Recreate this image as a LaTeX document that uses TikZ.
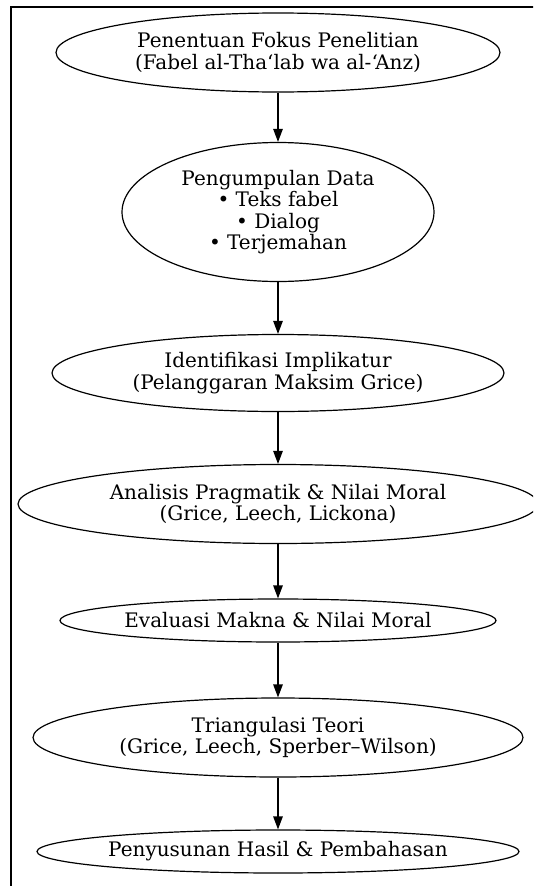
\documentclass[tikz,border=0pt]{standalone}
\usepackage{fontspec}
\setmainfont{DejaVu Serif}
\usetikzlibrary{shapes.geometric,arrows.meta}
\tikzset{
  stage/.style={draw, ellipse, line width=1.2pt, inner sep=0pt, align=center,
    font=\fontsize{20}{21.5}\selectfont},
  flow/.style={-{Triangle[length=13pt,width=9.5pt]}, line width=1.2pt}
}
\begin{document}
\begin{tikzpicture}[x=1pt,y=-1pt]
\useasboundingbox (0,0) rectangle (533,886);
\clip (0,0) rectangle (533,886);
\fill[white] (0,0) rectangle (533,886);
\draw[line width=1.8pt] (11,890) -- (11,7) -- (540,7);
\node[stage, minimum width=444pt, minimum height=79pt] (a) at (278,52.5) {Penentuan Fokus Penelitian\\(Fabel al-Tha‘lab wa al-‘Anz)};
\node[stage, minimum width=312pt, minimum height=139pt] (b) at (278,212) {Pengumpulan Data\\• Teks fabel\\• Dialog\\• Terjemahan};
\node[stage, minimum width=452pt, minimum height=77pt] (c) at (278,373) {Identifikasi Implikatur\\(Pelanggaran Maksim Grice)};
\node[stage, minimum width=520pt, minimum height=79pt] (d) at (278,504) {Analisis Pragmatik \& Nilai Moral\\(Grice, Leech, Lickona)};
\node[stage, minimum width=436pt, minimum height=43pt] (e) at (278,620.5) {Evaluasi Makna \& Nilai Moral};
\node[stage, minimum width=490pt, minimum height=79pt] (f) at (278,737.5) {Triangulasi Teori\\(Grice, Leech, Sperber–Wilson)};
\node[stage, minimum width=482pt, minimum height=43pt] (g) at (278,851.5) {Penyusunan Hasil \& Pembahasan};
\draw[flow] (a) -- (b);
\draw[flow] (b) -- (c);
\draw[flow] (c) -- (d);
\draw[flow] (d) -- (e);
\draw[flow] (e) -- (f);
\draw[flow] (f) -- (g);
\end{tikzpicture}
\end{document}
